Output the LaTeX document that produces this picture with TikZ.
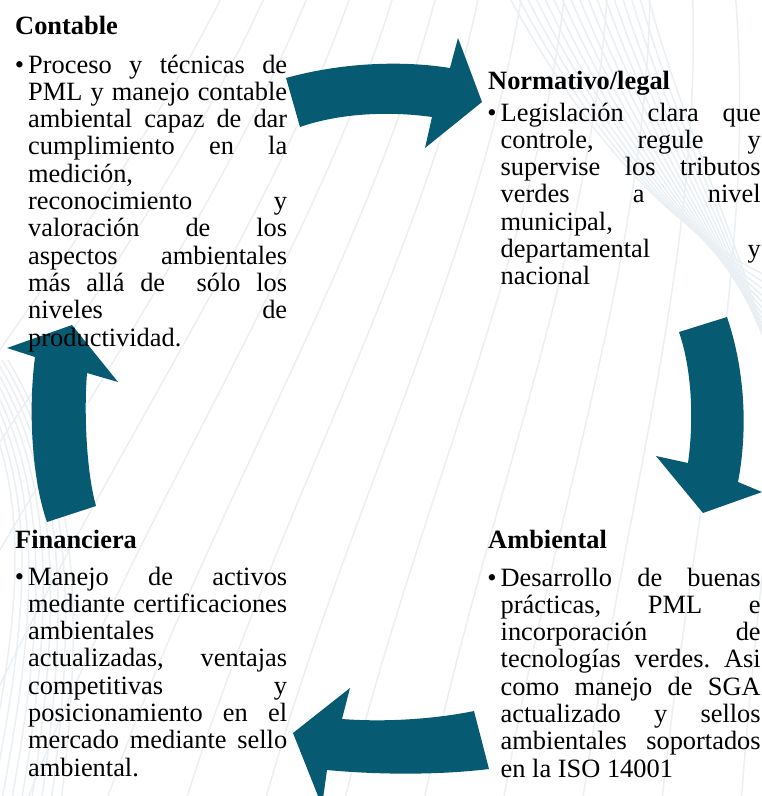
\documentclass[tikz,border=0pt]{standalone}
\usepackage{fontspec}
\setmainfont{Liberation Serif}
\frenchspacing
\definecolor{arrowteal}{HTML}{065A71}
\definecolor{bgline}{HTML}{E9EFF3}
\tikzset{
  blockarrow/.style={fill=arrowteal, draw=none},
  bgcurve/.style={draw=bgline, line width=1.5pt},
  headtext/.style={anchor=base west, inner sep=0pt, font=\fontsize{26.4}{27.3}\selectfont\bfseries},
  bodytext/.style={anchor=base west, inner sep=0pt, font=\fontsize{26.4}{27.3}\selectfont},
}
\newcommand{\jl}[2]{\makebox[#1][s]{#2}}
\newcommand{\bul}{\leavevmode\llap{•\hspace{4pt}}}
\newcommand{\bodyblock}[2]{\parbox[t]{#1}{\frenchspacing\lineskiplimit=-100pt\lineskip=0pt\parindent=0pt\raggedright #2}}
\begin{document}
\begin{tikzpicture}[x=1pt,y=-1pt]
\useasboundingbox (0,0) rectangle (762,796);
\clip (0,0) rectangle (762,796);
% background pattern
\foreach \i in {0,...,13} {
  \draw[bgcurve] ({-300+80*\i},820) .. controls ({-150+70*\i},520) and ({100+55*\i},250) .. ({230+42*\i},-20);
}
\foreach \r in {0,...,16} {
  \draw[bgcurve] ({500+9*\r},-20) .. controls ({590+6*\r},150) and ({690+4*\r},250) .. (800,{290+12*\r});
}
\foreach \r in {0,...,8} {
  \draw[bgcurve] ({-40+6*\r},360) .. controls ({40+5*\r},480) and ({20+8*\r},620) .. ({-20+10*\r},810);
}
% arrows
\fill[blockarrow] (286,78) .. controls (340,63) and (400,60) .. (450,68) -- (458,38) -- (482,102) -- (425,148) -- (432,117) .. controls (390,111) and (340,113) .. (300,127) -- cycle;
\fill[blockarrow] (679,332) -- (727,317) .. controls (745,370) and (748,430) .. (738,482) -- (762,492) -- (703,513) -- (656,456) -- (688,463) .. controls (694,420) and (692,370) .. (679,332) -- cycle;
\fill[blockarrow] (474,711) -- (489,769) .. controls (440,775) and (380,775) .. (327,770) -- (322,806) -- (293,733) -- (350,688) -- (342,719) .. controls (380,722) and (430,720) .. (474,711) -- cycle;
\fill[blockarrow] (47,522) -- (96,506) .. controls (86,470) and (84,410) .. (87,373) -- (118,382) -- (72,325) -- (7,348) -- (35,357) .. controls (28,410) and (32,480) .. (47,522) -- cycle;
% headings
\node[headtext] (h1) at (15,34) {Contable};
\node[headtext] (h2) at (488,89) {Normativo/legal};
\node[headtext] (h3) at (15,548) {Financiera};
\node[headtext] (h4) at (488,548) {Ambiental};
% bodies
\node[bodytext] (b1) at (28,73) {\bodyblock{259pt}{%
\bul\jl{259pt}{Proceso y técnicas de}\\
\jl{259pt}{PML y manejo contable}\\
\jl{259pt}{ambiental capaz de dar}\\
\jl{259pt}{cumplimiento en la}\\
medición,\\
\jl{259pt}{reconocimiento y}\\
\jl{259pt}{valoración de los}\\
\jl{259pt}{aspectos ambientales}\\
\jl{259pt}{más allá de \ sólo los}\\
\jl{259pt}{niveles de}\\
productividad.}};
\node[bodytext] (b2) at (500.5,121) {\bodyblock{260pt}{%
\bul\jl{260pt}{Legislación clara que}\\
\jl{260pt}{controle, regule y}\\
\jl{260pt}{supervise los tributos}\\
\jl{260pt}{verdes a nivel}\\
municipal,\\
\jl{260pt}{departamental y}\\
nacional}};
\node[bodytext] (b3) at (28,585) {\bodyblock{259pt}{%
\bul\jl{259pt}{Manejo de activos}\\
\jl{259pt}{mediante certificaciones}\\
ambientales\\
\jl{259pt}{actualizadas, ventajas}\\
\jl{259pt}{competitivas y}\\
\jl{259pt}{posicionamiento en el}\\
\jl{259pt}{mercado mediante sello}\\
ambiental.}};
\node[bodytext] (b4) at (500.5,586) {\bodyblock{260pt}{%
\bul\jl{260pt}{Desarrollo de buenas}\\
\jl{260pt}{prácticas, PML e}\\
\jl{260pt}{incorporación de}\\
\jl{260pt}{tecnologías verdes. Asi}\\
\jl{260pt}{como manejo de SGA}\\
\jl{260pt}{actualizado y sellos}\\
\jl{260pt}{ambientales soportados}\\
en la ISO 14001}};
\end{tikzpicture}
\end{document}
